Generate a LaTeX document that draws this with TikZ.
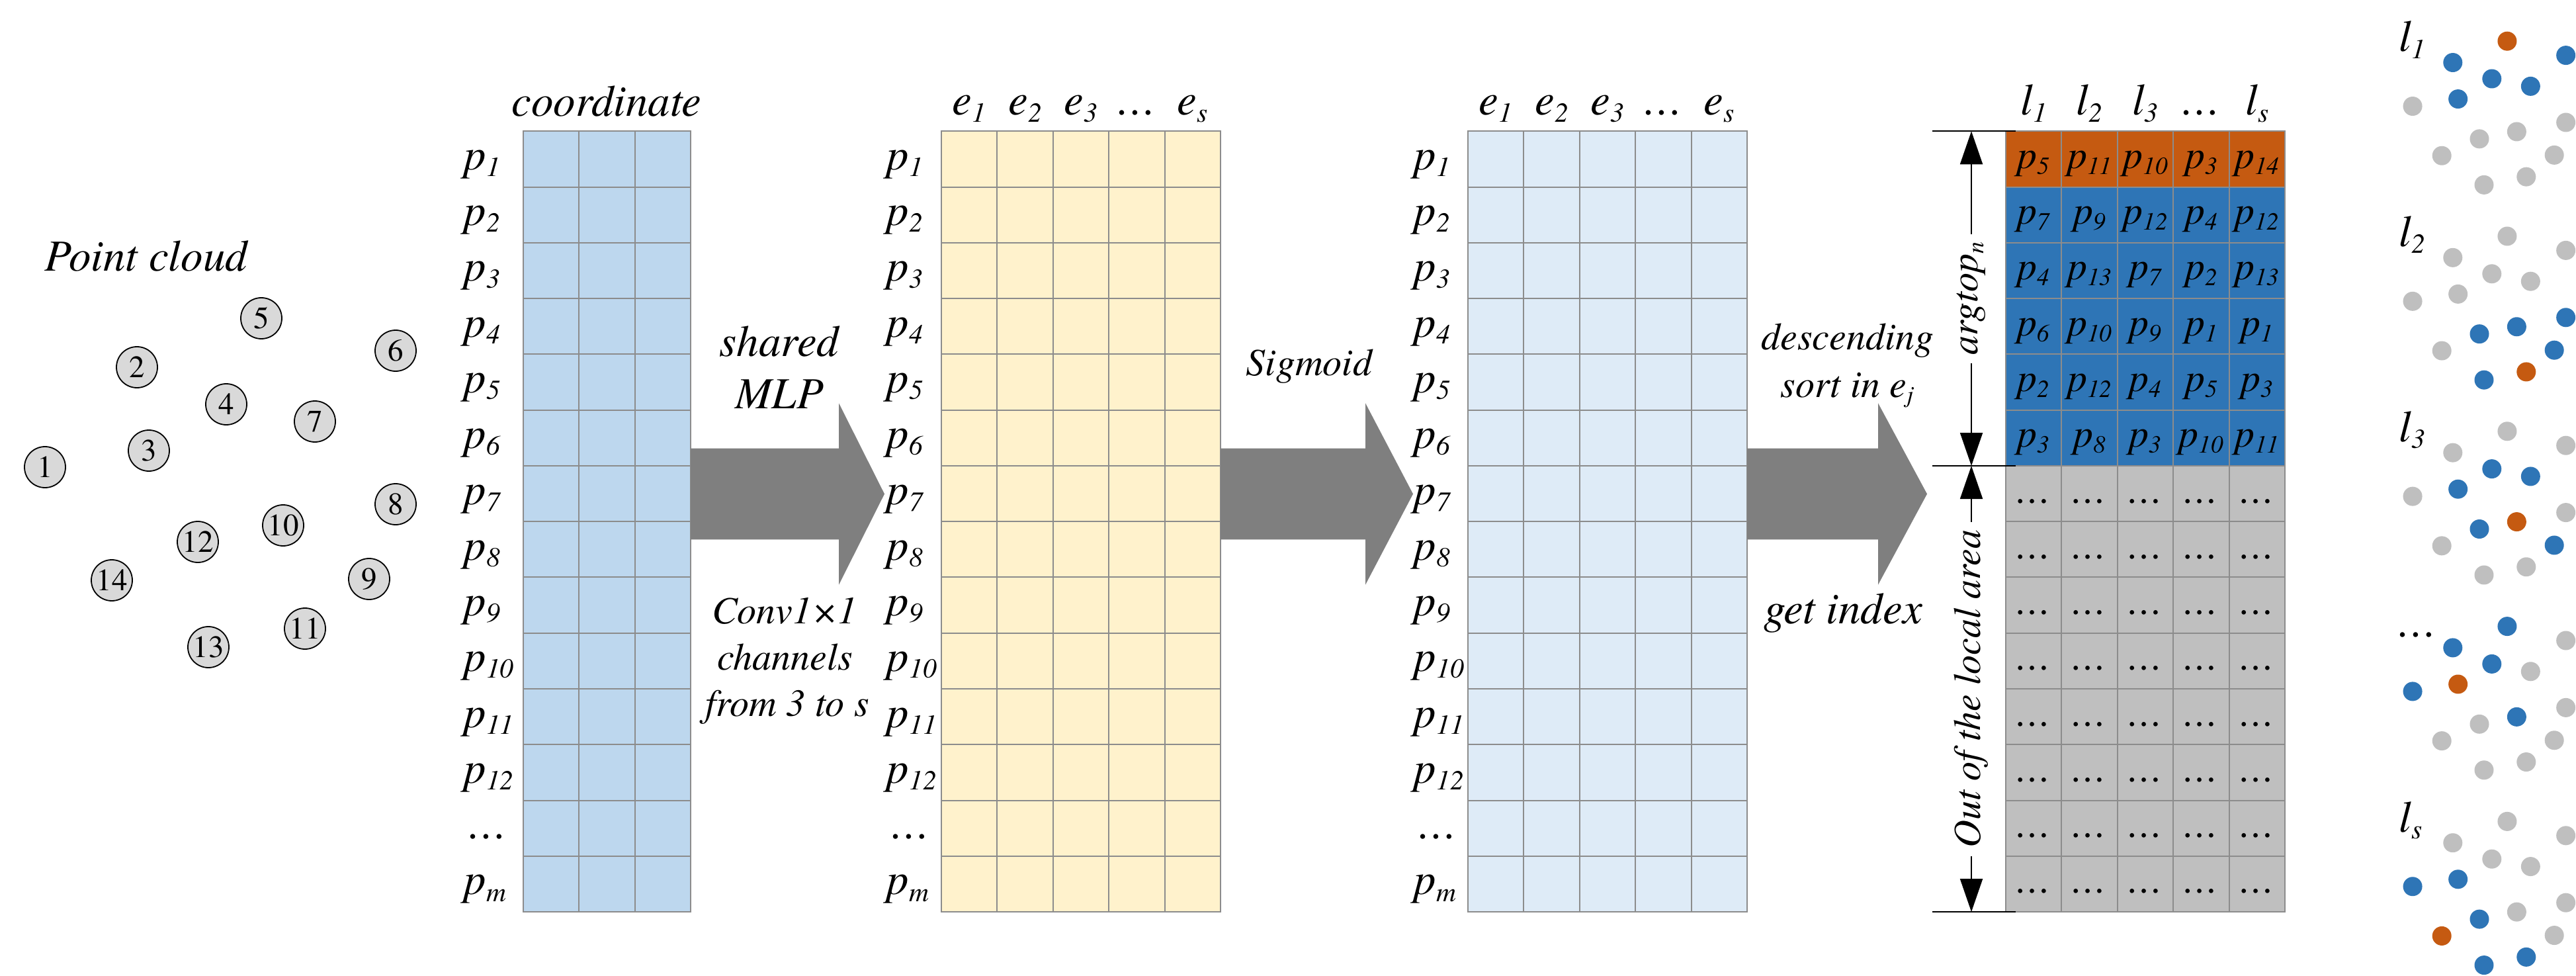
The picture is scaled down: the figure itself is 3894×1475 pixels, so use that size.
\documentclass[tikz,border=0pt]{standalone}
\usepackage{fontspec}
\setmainfont{texgyretermes}[Extension=.otf,UprightFont=*-regular,ItalicFont=*-italic,BoldFont=*-bold,BoldItalicFont=*-bolditalic]
\newfontfamily\tnr{texgyretermes}[Extension=.otf,UprightFont=*-regular,ItalicFont=*-italic,BoldFont=*-bold,BoldItalicFont=*-bolditalic]
\usepackage{graphicx}
\usetikzlibrary{calc,arrows.meta}
\definecolor{tA}{HTML}{BDD7EE}
\definecolor{tB}{HTML}{FFF2CC}
\definecolor{tC}{HTML}{DEEBF7}
\definecolor{orng}{HTML}{C55A11}
\definecolor{blu}{HTML}{2E75B6}
\definecolor{gry}{HTML}{BFBFBF}
\definecolor{gridc}{HTML}{8C8C8C}
\definecolor{arr}{HTML}{7F7F7F}
\definecolor{pcf}{HTML}{D9D9D9}
\newcommand\isub[2]{#1\raisebox{-0.15em}{\scalebox{0.62}{#2}}}
\newcommand\fmain{\tnr\fontsize{16.75}{20}\selectfont\itshape}
\newcommand\fsmall{\tnr\fontsize{14.5}{17}\selectfont\itshape}
\newcommand\fcell{\tnr\fontsize{15}{18}\selectfont\itshape}
\newcommand\fnum{\tnr\fontsize{11.75}{14}\selectfont\upshape}
\begin{document}
\begin{tikzpicture}[x=0.25pt,y=-0.25pt,
  lbl/.style={inner sep=0pt,font=\fmain},
  slbl/.style={inner sep=0pt,font=\fsmall},
  clbl/.style={inner sep=0pt,font=\fcell,anchor=base},
  pc/.style={circle,draw=black,line width=0.45pt,fill=pcf,minimum size=15.5pt,inner sep=0pt,font=\fnum},
  gridcell/.style={draw=gridc,line width=0.5pt},
  blockarrow/.style={fill=arr},
  dimline/.style={line width=0.5pt,{Triangle[width=8.5pt,length=12.5pt]}-{Triangle[width=8.5pt,length=12.5pt]}},
  dimtick/.style={line width=0.5pt},
  dotg/.style={fill=gry}, dotb/.style={fill=blu}, doto/.style={fill=orng}]
\useasboundingbox (0,0) rectangle (3894,1475);

% ---------------- point cloud ----------------
\node[lbl,anchor=base] (pctitle) at (221,410) {Point cloud};
\node[pc] (c1) at (68,706) {1};
\node[pc] (c2) at (207,555) {2};
\node[pc] (c3) at (225,681) {3};
\node[pc] (c4) at (342,611) {4};
\node[pc] (c5) at (395,481) {5};
\node[pc] (c6) at (598,530) {6};
\node[pc] (c7) at (476,637) {7};
\node[pc] (c8) at (598,762) {8};
\node[pc] (c9) at (558,875) {9};
\node[pc] (c10) at (428,794) {10};
\node[pc] (c11) at (461,950) {11};
\node[pc] (c12) at (299,819) {12};
\node[pc] (c13) at (315,978) {13};
\node[pc] (c14) at (169,877) {14};

% ---------------- tables 1-3 ----------------
\foreach \c in {0,1,2} \foreach \r in {0,...,13}
  \draw[gridcell,fill=tA] ({790.7+\c*84.4},{198.3+\r*84.27}) rectangle ++(84.4,84.27);
\foreach \c in {0,...,4} \foreach \r in {0,...,13}
  \draw[gridcell,fill=tB] ({1423+\c*84.4},{198.3+\r*84.27}) rectangle ++(84.4,84.27);
\foreach \c in {0,...,4} \foreach \r in {0,...,13}
  \draw[gridcell,fill=tC] ({2219+\c*84.4},{198.3+\r*84.27}) rectangle ++(84.4,84.27);

% row labels
\foreach \t/\x in {A/700.7,B/1340,C/2137} {
  \foreach \r in {1,...,12}
    \node[lbl,anchor=base west] (\t p\r) at (\x,{198.3+(\r-0.5)*84.27+16}) {\isub{p}{\r}};
  \node[lbl,anchor=base west] (\t pdots) at (\x+6,{198.3+12.5*84.27+16}) {…};
  \node[lbl,anchor=base west] (\t pm) at (\x,{198.3+13.5*84.27+16}) {\isub{p}{m}};
}

% headers
\node[lbl,anchor=base] (hcoord) at (917,176) {coordinate};
\foreach \t/\x in {B/1423,C/2219} {
  \node[lbl,anchor=base] (\t e1) at (\x+42.2,174) {\isub{e}{1}};
  \node[lbl,anchor=base] (\t e2) at (\x+126.6,174) {\isub{e}{2}};
  \node[lbl,anchor=base] (\t e3) at (\x+211,174) {\isub{e}{3}};
  \node[lbl,anchor=base] (\t ed) at (\x+295.4,174) {…};
  \node[lbl,anchor=base] (\t es) at (\x+379.8,174) {\isub{e}{s}};
}

% ---------------- block arrows ----------------
\fill[blockarrow] (1043.9,677.7) -- (1268,677.7) -- (1268,609.3) -- (1337,746.5) -- (1268,883.7) -- (1268,815.3) -- (1043.9,815.3) -- cycle;
\fill[blockarrow] (1845,677.7) -- (2064,677.7) -- (2064,609.3) -- (2136,746.5) -- (2064,883.7) -- (2064,815.3) -- (1845,815.3) -- cycle;
\fill[blockarrow] (2641,677.7) -- (2839,677.7) -- (2839,609.3) -- (2913,746.5) -- (2839,883.7) -- (2839,815.3) -- (2641,815.3) -- cycle;

\node[lbl,anchor=base] (shared) at (1178,539) {shared};
\node[lbl,anchor=base] (mlp) at (1178,617) {MLP};
\node[slbl,anchor=base] (conv) at (1186,942) {Conv1×1};
\node[slbl,anchor=base] (chan) at (1187,1012) {channels};
\node[slbl,anchor=base] (from) at (1190,1082) {from 3 to s};
\node[slbl,anchor=base] (sigm) at (1979,568) {Sigmoid};
\node[slbl,anchor=base] (desc) at (2793,528) {descending};
\node[slbl,anchor=base] (sort) at (2792,600) {sort in \isub{e}{j}};
\node[lbl,anchor=base] (getidx) at (2786,942) {get index};

% ---------------- table 4 ----------------
\foreach \c in {0,...,4} {
  \draw[gridcell,fill=orng] ({3032+\c*84.4},198.3) rectangle ++(84.4,84.27);
  \foreach \r in {1,...,5}
    \draw[gridcell,fill=blu] ({3032+\c*84.4},{198.3+\r*84.27}) rectangle ++(84.4,84.27);
  \foreach \r in {6,...,13}
    \draw[gridcell,fill=gry] ({3032+\c*84.4},{198.3+\r*84.27}) rectangle ++(84.4,84.27);
}
\foreach \row [count=\r] in {{5,11,10,3,14},{7,9,12,4,12},{4,13,7,2,13},{6,10,9,1,1},{2,12,4,5,3},{3,8,3,10,11}}
  \foreach \v [count=\c] in \row
    \node[clbl] (q\r x\c) at ({3032+(\c-0.5)*84.4},{198.3+(\r-0.5)*84.27+14}) {\isub{p}{\v}};
\foreach \r in {7,...,14} \foreach \c in {1,...,5}
  \node[clbl] (q\r x\c) at ({3032+(\c-0.5)*84.4},{198.3+(\r-0.5)*84.27+14}) {…};
\node[lbl,anchor=base] (hl1) at (3074.2,174) {\isub{l}{1}};
\node[lbl,anchor=base] (hl2) at (3158.6,174) {\isub{l}{2}};
\node[lbl,anchor=base] (hl3) at (3243,174) {\isub{l}{3}};
\node[lbl,anchor=base] (hld) at (3327.4,174) {…};
\node[lbl,anchor=base] (hls) at (3411.8,174) {\isub{l}{s}};

% dimension lines
\coordinate (dA) at (2980,198.3);
\coordinate (dB) at (2980,704);
\coordinate (dC) at (2980,1378.1);
\draw[dimline] (dA) -- (dB) node[midway,rotate=90,fill=white,font=\fsmall,inner sep=3pt] (argtop) {argto\isub{p}{n}};
\draw[dimline] (dB) -- (dC) node[midway,rotate=90,fill=white,font=\fsmall,inner sep=3pt] (outarea) {Out of the local area};
\foreach \y [count=\i] in {198.3,704,1378.1} {
  \coordinate (tkL\i) at (2921,\y);
  \coordinate (tkR\i) at (3047,\y);
  \draw[dimtick] (tkL\i) -- (tkR\i);
}

% ---------------- local area dots ----------------
\foreach \c [count=\i] in {g,b,b,b,o,b,b,g,g,g,g,g,g,g}
  \fill[dot\c] ($0.437*(c\i)+(3617.3,-148.0)$) circle[radius=14.5];
\foreach \c [count=\i] in {g,g,g,g,g,g,g,b,b,b,o,b,b,g}
  \fill[dot\c] ($0.437*(c\i)+(3617.3,146.8)$) circle[radius=14.5];
\foreach \c [count=\i] in {g,g,b,b,g,g,b,g,b,o,g,b,g,g}
  \fill[dot\c] ($0.437*(c\i)+(3617.3,441.6)$) circle[radius=14.5];
\foreach \c [count=\i] in {b,b,o,b,b,g,g,g,g,b,g,g,g,g}
  \fill[dot\c] ($0.437*(c\i)+(3617.3,736.4)$) circle[radius=14.5];
\foreach \c [count=\i] in {b,g,b,g,g,g,g,g,g,g,b,b,b,o}
  \fill[dot\c] ($0.437*(c\i)+(3617.3,1031.2)$) circle[radius=14.5];
\node[lbl,anchor=base west] (gl1) at (3626,78) {\isub{l}{1}};
\node[lbl,anchor=base west] (gl2) at (3626,372.8) {\isub{l}{2}};
\node[lbl,anchor=base west] (gl3) at (3626,667.6) {\isub{l}{3}};
\node[lbl,anchor=base west] (gld) at (3624,962.4) {…};
\node[lbl,anchor=base west] (gls) at (3626,1257.2) {\isub{l}{s}};
\end{tikzpicture}
\end{document}
